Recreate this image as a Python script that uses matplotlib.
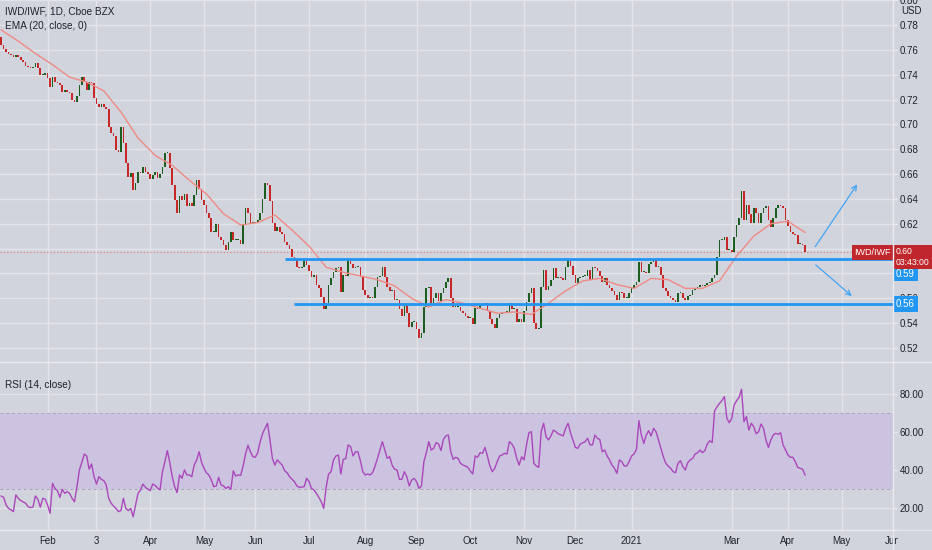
import matplotlib
matplotlib.use('Agg')
import matplotlib.pyplot as plt
from matplotlib.lines import Line2D
from matplotlib.patches import Rectangle
import numpy as np
import pandas as pd

# IWD/IWF daily closes, one per trading day starting 2020-01-07
first_open = 0.770
closes = [
    0.764, 0.761, 0.758, 0.757, 0.756, 0.754, 0.756, 0.754, 0.752, 0.750,
    0.747, 0.746, 0.745, 0.746, 0.749, 0.745, 0.740, 0.740, 0.741, 0.737,
    0.730, 0.738, 0.734, 0.733, 0.732, 0.726, 0.728, 0.726, 0.725, 0.720,
    0.718, 0.723, 0.732, 0.738, 0.734, 0.728, 0.734, 0.733, 0.721, 0.716,
    0.714, 0.716, 0.714, 0.712, 0.698, 0.693, 0.691, 0.679, 0.678, 0.698,
    0.685, 0.669, 0.658, 0.661, 0.647, 0.653, 0.662, 0.661, 0.666, 0.662,
    0.660, 0.656, 0.659, 0.662, 0.657, 0.660, 0.666, 0.677, 0.677, 0.665,
    0.651, 0.639, 0.629, 0.642, 0.639, 0.644, 0.634, 0.637, 0.634, 0.643,
    0.655, 0.648, 0.639, 0.635, 0.629, 0.625, 0.613, 0.613, 0.620, 0.609,
    0.607, 0.603, 0.599, 0.605, 0.613, 0.607, 0.607, 0.607, 0.604, 0.620,
    0.633, 0.629, 0.621, 0.621, 0.621, 0.623, 0.629, 0.640, 0.653, 0.651,
    0.638, 0.621, 0.614, 0.617, 0.613, 0.612, 0.605, 0.603, 0.600, 0.593,
    0.591, 0.585, 0.584, 0.585, 0.591, 0.587, 0.582, 0.577, 0.579, 0.571,
    0.568, 0.561, 0.551, 0.556, 0.571, 0.576, 0.581, 0.584, 0.585, 0.565,
    0.579, 0.578, 0.591, 0.588, 0.584, 0.585, 0.585, 0.577, 0.567, 0.563,
    0.560, 0.561, 0.560, 0.569, 0.577, 0.578, 0.585, 0.577, 0.569, 0.566,
    0.567, 0.559, 0.559, 0.551, 0.546, 0.555, 0.548, 0.537, 0.541, 0.541,
    0.535, 0.528, 0.532, 0.553, 0.568, 0.569, 0.556, 0.560, 0.564, 0.558,
    0.564, 0.568, 0.573, 0.576, 0.560, 0.553, 0.553, 0.553, 0.550, 0.548,
    0.546, 0.544, 0.544, 0.539, 0.552, 0.551, 0.555, 0.555, 0.556, 0.550,
    0.543, 0.539, 0.536, 0.544, 0.547, 0.548, 0.549, 0.549, 0.556, 0.551,
    0.551, 0.541, 0.543, 0.541, 0.550, 0.557, 0.564, 0.568, 0.540, 0.535,
    0.536, 0.569, 0.583, 0.567, 0.570, 0.575, 0.584, 0.576, 0.577, 0.576,
    0.575, 0.585, 0.591, 0.586, 0.579, 0.572, 0.576, 0.577, 0.578, 0.578,
    0.583, 0.575, 0.585, 0.584, 0.582, 0.578, 0.573, 0.576, 0.571, 0.568,
    0.566, 0.563, 0.559, 0.565, 0.564, 0.560, 0.560, 0.564, 0.568, 0.571,
    0.573, 0.589, 0.581, 0.581, 0.580, 0.588, 0.589, 0.591, 0.585, 0.585,
    0.579, 0.568, 0.566, 0.562, 0.560, 0.559, 0.557, 0.564, 0.564, 0.560,
    0.559, 0.562, 0.563, 0.567, 0.568, 0.569, 0.571, 0.570, 0.571, 0.572,
    0.573, 0.576, 0.579, 0.593, 0.607, 0.607, 0.609, 0.599, 0.599, 0.597,
    0.609, 0.619, 0.625, 0.646, 0.623, 0.635, 0.628, 0.621, 0.633, 0.629,
    0.621, 0.629, 0.633, 0.634, 0.623, 0.617, 0.625, 0.633, 0.635, 0.634,
    0.633, 0.623, 0.618, 0.613, 0.612, 0.611, 0.604, 0.604, 0.603, 0.597,
]

# EMA(20) every 7th bar
ema_step = 7
ema20 = [
    0.776, 0.767, 0.757, 0.748, 0.738, 0.734, 0.727, 0.710, 0.689, 0.675,
    0.667, 0.655, 0.644, 0.628, 0.619, 0.621, 0.627, 0.615, 0.602, 0.585,
    0.581, 0.578, 0.575, 0.570, 0.560, 0.553, 0.559, 0.556, 0.552, 0.548,
    0.549, 0.547, 0.556, 0.566, 0.574, 0.576, 0.571, 0.568, 0.576, 0.575,
    0.568, 0.568, 0.574, 0.594, 0.610, 0.620, 0.622, 0.613,
]

# RSI(14), one per bar
rsi14 = [
    26.3, 25.6, 21.6, 19.8, 19.0, 18.1, 26.9, 25.1, 23.9, 23.2,
    22.5, 20.7, 20.2, 20.5, 26.3, 24.6, 20.4, 25.1, 24.6, 21.6,
    17.2, 33.0, 30.3, 29.1, 25.6, 29.8, 27.7, 28.6, 27.7, 25.1,
    23.3, 31.2, 40.0, 44.0, 48.4, 47.4, 40.4, 43.2, 36.5, 32.6,
    36.5, 35.1, 34.4, 32.1, 25.1, 22.5, 21.0, 19.8, 18.1, 18.6,
    25.1, 19.8, 18.6, 19.8, 15.4, 21.6, 27.7, 29.5, 32.6, 30.9,
    30.0, 29.1, 32.6, 31.9, 30.5, 29.5, 39.1, 44.4, 50.2, 43.9,
    36.5, 31.2, 28.1, 37.4, 35.6, 40.0, 37.4, 37.4, 36.5, 42.6,
    45.3, 49.6, 44.0, 40.9, 38.5, 37.4, 34.7, 31.2, 31.6, 36.1,
    32.1, 31.6, 30.3, 31.2, 29.8, 39.6, 36.8, 37.4, 37.2, 42.0,
    48.4, 53.0, 49.6, 47.0, 46.7, 49.1, 54.9, 59.3, 61.9, 64.6,
    55.8, 46.1, 42.6, 45.3, 43.9, 42.6, 39.6, 38.6, 36.5, 35.2,
    33.9, 31.6, 30.9, 31.0, 31.2, 35.6, 33.9, 30.3, 29.5, 27.7,
    25.6, 23.3, 19.8, 30.9, 37.9, 39.1, 45.3, 47.4, 47.9, 37.9,
    45.6, 46.0, 53.2, 52.3, 47.4, 49.6, 49.6, 44.9, 39.1, 37.4,
    37.9, 37.4, 38.6, 42.0, 46.1, 50.5, 54.9, 50.5, 46.1, 47.0,
    42.6, 40.4, 40.0, 35.1, 35.1, 39.1, 36.5, 31.6, 34.7, 35.6,
    33.9, 30.3, 31.6, 44.4, 49.1, 54.9, 50.5, 51.4, 54.4, 53.7,
    50.2, 56.1, 57.9, 58.4, 49.6, 45.6, 46.7, 46.1, 43.5, 42.6,
    42.1, 41.4, 39.5, 37.9, 47.4, 46.7, 49.1, 48.8, 51.9, 47.4,
    42.1, 39.1, 40.9, 44.4, 47.4, 47.9, 48.8, 48.4, 54.9, 53.7,
    51.4, 46.0, 42.6, 47.0, 45.3, 53.2, 59.6, 60.2, 43.5, 42.1,
    41.4, 60.2, 64.6, 57.5, 55.8, 57.9, 61.0, 60.2, 59.0, 58.5,
    57.9, 61.9, 64.6, 59.6, 55.8, 51.9, 51.4, 53.7, 54.3, 54.9,
    56.7, 53.2, 53.2, 58.4, 56.7, 56.1, 49.6, 50.5, 47.4, 45.3,
    42.6, 40.9, 38.2, 45.3, 44.4, 42.1, 42.1, 44.4, 47.4, 48.4,
    50.9, 66.0, 58.4, 54.0, 58.4, 60.7, 57.9, 61.9, 60.2, 55.8,
    51.5, 47.0, 43.5, 42.0, 40.9, 39.1, 38.6, 43.5, 44.9, 41.8,
    40.0, 43.9, 45.3, 46.1, 48.4, 49.1, 50.5, 49.1, 50.2, 53.7,
    55.4, 54.4, 71.2, 73.3, 75.1, 76.5, 78.6, 67.2, 64.9, 67.2,
    74.2, 76.5, 78.2, 82.5, 65.4, 68.1, 61.0, 64.6, 62.8, 59.0,
    60.2, 64.2, 61.9, 55.8, 51.9, 55.8, 58.4, 59.3, 58.8, 59.6,
    53.2, 50.5, 47.9, 46.7, 46.7, 44.4, 41.4, 40.9, 40.4, 37.4,
]

# horizontal support / resistance drawn on the chart
levels = [0.592, 0.5555]
level_start_bar = [116, 120]

tick_months = ['2020-02', '2020-03', '2020-04', '2020-05', '2020-06', '2020-07',
               '2020-08', '2020-09', '2020-10', '2020-11', '2020-12', '2021-01',
               '2021-03', '2021-04', '2021-05', '2021-06']
tick_labels = ['Feb', '3', 'Apr', 'May', 'Jun', 'Jul', 'Aug', 'Sep', 'Oct',
               'Nov', 'Dec', '2021', 'Mar', 'Apr', 'May', 'Jun']

BG = '#d1d4dc'
GRID = '#e2e4ea'
SEP = '#e9eaee'
TXT = '#1e222d'
GREEN = '#1b5e20'
RED = '#c62828'
BLUE = '#2196f3'
LABEL_RED = '#c0272d'

plt.rcParams['font.family'] = ['Liberation Sans', 'DejaVu Sans']

W, H = 932, 550
fig = plt.figure(figsize=(W / 100, H / 100), dpi=100, facecolor=BG)


def fx(px):
    return px / W


def fy(py):
    return 1 - py / H


ax = fig.add_axes([0, fy(362), fx(893), 362 / H], facecolor=BG)
ax_rsi = fig.add_axes([0, fy(530), fx(893), (530 - 362) / H], facecolor=BG)

n = len(closes)
bars = np.arange(n)
c = np.array(closes)
o = np.array([first_open] + closes[:-1])
up = c >= o
body_lo = np.minimum(o, c)
body_h = np.maximum(np.abs(c - o), 0.0008)
ax.bar(bars, body_h, bottom=body_lo, width=0.68,
       color=np.where(up, GREEN, RED), linewidth=0, zorder=3)

ax.plot(bars[::ema_step], ema20, color='#f08a84', lw=1.0, zorder=4)

# support/resistance lines
for lv, start in zip(levels, level_start_bar):
    ax.plot([start, 365], [lv, lv], color=BLUE, lw=2.0, zorder=5,
            solid_capstyle='butt')

last = closes[-1]
ax.axhline(last, color='#e57373', lw=0.8, ls=(0, (1, 2)), zorder=2)

# projection arrows
arrow_kw = dict(arrowstyle='->', color='#42a5f5', lw=0.9, mutation_scale=9)
ax.annotate('', xy=(351, 0.6536), xytext=(332.5, 0.5997), arrowprops=arrow_kw, zorder=6)
ax.annotate('', xy=(349, 0.5603), xytext=(332.5, 0.5884), arrowprops=arrow_kw, zorder=6)

# axes styling
dates = pd.bdate_range('2020-01-07', '2021-06-30')
month_bars = [int(np.searchsorted(dates, pd.Timestamp(m + '-01'))) for m in tick_months]

for a in (ax, ax_rsi):
    a.set_xlim(-0.49, 365.0)
    a.set_xticks(month_bars)
    a.grid(True, color=GRID, lw=1.0, zorder=0)
    a.set_axisbelow(True)
    for s in a.spines.values():
        s.set_visible(False)
    a.yaxis.tick_right()
    a.tick_params(axis='y', length=3, width=1, color=SEP, pad=2,
                  labelsize=7, labelcolor=TXT)
    a.tick_params(axis='x', length=0)

price_ticks = np.round(np.arange(0.52, 0.801, 0.02), 2)
ax.set_ylim(0.50873, 0.8001)
ax.set_yticks(price_ticks)
ax.set_yticklabels(['%.2f' % v for v in price_ticks])
ax.tick_params(axis='x', labelbottom=False)

# RSI pane
ax_rsi.axhspan(30, 70, color='#cbc3df', lw=0, zorder=1)
for lv in (30, 70):
    ax_rsi.axhline(lv, color='#aaa2bd', lw=0.7, ls=(0, (3, 3)), zorder=2)
ax_rsi.plot(np.arange(len(rsi14)), rsi14, color='#ab47bc', lw=1.0, zorder=4)
ax_rsi.set_ylim(8.42, 96.84)
ax_rsi.set_yticks([20, 40, 60, 80])
ax_rsi.set_yticklabels(['20.00', '40.00', '60.00', '80.00'])
ax_rsi.set_xticklabels(tick_labels)
ax_rsi.tick_params(axis='x', labelsize=7, labelcolor=TXT, pad=4)

# labels on the price scale
for lv, dy in zip(levels, (-15, 0)):
    ax.annotate('%.2f' % lv, xy=(1, lv), xycoords=('axes fraction', 'data'),
                xytext=(3, dy), textcoords='offset pixels', ha='left', va='center',
                color='white', fontsize=7, annotation_clip=False, zorder=10,
                bbox=dict(boxstyle='square,pad=0.3', fc=BLUE, ec='none'))

ax.annotate('IWD/IWF', xy=(1, last), xycoords=('axes fraction', 'data'),
            xytext=(-2, 0), textcoords='offset pixels', ha='right', va='center',
            color='white', fontsize=6.5, annotation_clip=False, zorder=10,
            bbox=dict(boxstyle='square,pad=0.3', fc=LABEL_RED, ec='none'))
ax.annotate('%.2f\n03:43:00' % last, xy=(1, last), xycoords=('axes fraction', 'data'),
            xytext=(3, 5), textcoords='offset pixels', ha='left', va='top',
            color='white', fontsize=6.2, linespacing=1.2, annotation_clip=False,
            zorder=10, bbox=dict(boxstyle='square,pad=0.3', fc=LABEL_RED, ec='none'))

fig.text(fx(901), fy(11), 'USD', fontsize=7, color=TXT, ha='left', va='center')

# pane separators
fig.add_artist(Line2D([fx(893), fx(893)], [0, 1], color=SEP, lw=1))
fig.add_artist(Line2D([0, 1], [fy(362), fy(362)], color=SEP, lw=1))
fig.add_artist(Line2D([0, 1], [fy(530), fy(530)], color=SEP, lw=1))
fig.add_artist(Rectangle((fx(898), 0), fx(W - 898), fy(531), color=BG, zorder=20,
                         transform=fig.transFigure))

# legends
fig.text(fx(5), fy(12), 'IWD/IWF, 1D, Cboe BZX', fontsize=7.2, color=TXT, va='center')
fig.text(fx(5), fy(26), 'EMA (20, close, 0)', fontsize=7.2, color=TXT, va='center')
fig.text(fx(5), fy(385), 'RSI (14, close)', fontsize=7.2, color=TXT, va='center')

fig.savefig('out.png', dpi=100, facecolor=BG)
